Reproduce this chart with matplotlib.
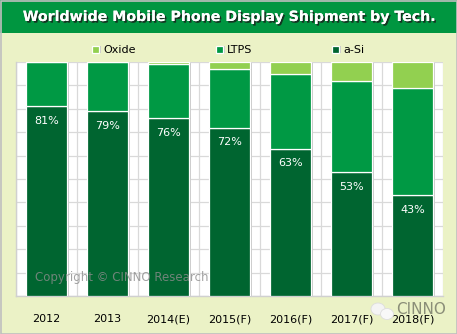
import matplotlib.pyplot as plt
import matplotlib.patheffects as pe
from matplotlib.patches import Rectangle, Ellipse
import numpy as np

years = ["2012", "2013", "2014(E)", "2015(F)", "2016(F)", "2017(F)", "2018(F)"]
a_si = [81, 79, 76, 72, 63, 53, 43]
ltps = [19, 21, 23, 25, 32, 39, 46]
oxide = [0, 0, 1, 3, 5, 8, 11]

c_oxide = "#92D050"
c_ltps = "#009944"
c_asi = "#006530"
bg = "#EBF2C6"

W, H = 457, 334
fig = plt.figure(figsize=(W / 100, H / 100), dpi=100, facecolor=bg)

# title banner
fig.patches.append(Rectangle((0, 1 - 33 / H), 1, 33 / H, transform=fig.transFigure,
                             facecolor="#009640", edgecolor="none", zorder=0))
fig.patches.append(Rectangle((0.5 / W, 0.5 / H), 1 - 1 / W, 1 - 1 / H, transform=fig.transFigure,
                             facecolor="none", edgecolor="#BFBFBF", linewidth=1.2, zorder=5))
fig.text(0.5, 1 - 17 / H, "Worldwide Mobile Phone Display Shipment by Tech.",
         ha="center", va="center", color="white", fontsize=10.2, fontweight="bold",
         path_effects=[pe.withSimplePatchShadow(offset=(1.2, -1.2), shadow_rgbFace="#1a1a1a", alpha=0.8),
                       pe.Normal()])

ax = fig.add_axes([16 / W, 1 - 296 / H, (443 - 16) / W, (296 - 62) / H])
ax.set_facecolor("white")

x = np.arange(len(years))
width = 0.66
shadow = [pe.SimplePatchShadow(offset=(1.5, -0.5), shadow_rgbFace="#C8C8C8", alpha=1), pe.Normal()]
b1 = ax.bar(x, a_si, width, color=c_asi, edgecolor="white", linewidth=0.9, label="a-Si", zorder=3,
            path_effects=shadow)
b2 = ax.bar(x, ltps, width, bottom=a_si, color=c_ltps, edgecolor="white", linewidth=0.9, label="LTPS",
            zorder=3, path_effects=shadow)
bottom2 = [a + l for a, l in zip(a_si, ltps)]
b3 = ax.bar(x, oxide, width, bottom=bottom2, color=c_oxide, edgecolor="white", linewidth=0.9,
            label="Oxide", zorder=3, path_effects=shadow)

for xi, v in zip(x, a_si):
    ax.annotate(f"{v}%", (xi, v), xytext=(0, -10.5), textcoords="offset points",
                ha="center", va="center", color="white", fontsize=8, zorder=4)

ax.set_xlim(-0.5, len(years) - 0.5)
ax.set_ylim(0, 100)
ax.set_yticks(np.arange(0, 101, 10))
ax.set_xticks(np.arange(-0.5, len(years), 1), minor=True)
ax.set_xticks(x)
ax.set_xticklabels(years, fontsize=8)
ax.tick_params(axis="x", which="both", length=0, pad=13)
ax.tick_params(axis="y", length=0, labelleft=False)
ax.grid(True, axis="y", color="#D9D9D9", linewidth=0.9, zorder=0)
ax.grid(True, axis="x", which="minor", color="#D9D9D9", linewidth=0.9, zorder=0)
ax.grid(False, axis="x", which="major")
for s in ["top", "right"]:
    ax.spines[s].set_visible(False)
for s in ["left", "bottom"]:
    ax.spines[s].set_color("#D0D0D0")
    ax.spines[s].set_linewidth(1)

fig.legend(handles=[b3, b2, b1], loc="center", bbox_to_anchor=(0.5, 1 - 50 / H), ncol=3,
           frameon=False, fontsize=8, handlelength=0.6, handleheight=0.6, handletextpad=0.4,
           columnspacing=7.2)

# watermarks
fig.text(35 / W, 1 - 278 / H, "Copyright \u00a9 CINNO Research", fontsize=8.5, color="#8C8C8C",
         alpha=0.8, va="center", ha="left", zorder=6)
fig.patches.append(Ellipse((378 / W, 1 - 309 / H), 14 / W, 12 / H, transform=fig.transFigure,
                           facecolor="#F4F4F4", edgecolor="#DDDDDD", linewidth=0.6, zorder=6))
fig.patches.append(Ellipse((387 / W, 1 - 314 / H), 13 / W, 11 / H, transform=fig.transFigure,
                           facecolor="#F8F8F8", edgecolor="#DDDDDD", linewidth=0.6, zorder=6))
fig.text(396 / W, 1 - 309 / H, "CINNO", fontsize=11, color="#2b2b2b", alpha=0.5,
         va="center", ha="left", zorder=7)

fig.savefig("out.png", dpi=100, facecolor=bg)
